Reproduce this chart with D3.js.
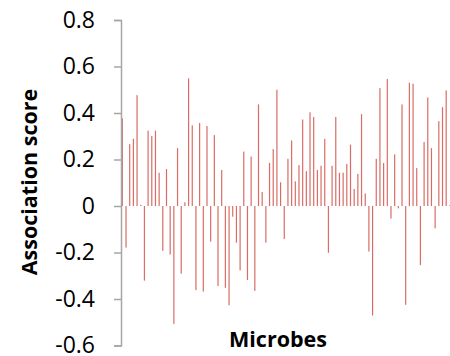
<!DOCTYPE html>
<html>
<head>
<meta charset="utf-8">
<script src="https://cdn.jsdelivr.net/npm/d3@7"></script>
<style>
  body { margin: 0; background: #fff; }
</style>
</head>
<body>
<div id="chart"></div>
<script>
// association score per microbe
let scores = [
  0.377, -0.179, 0.266, 0.289, 0.477, 0.005, -0.321, 0.324, 0.301, 0.324,
  0.143, -0.193, 0.159, -0.209, -0.507, 0.249, -0.291, 0.016, 0.549, 0.347,
  -0.362, 0.357, -0.368, 0.344, -0.153, 0.305, -0.344, 0.155, -0.352, -0.427,
  -0.046, -0.158, -0.277, 0.234, -0.318, 0.213, -0.365, 0.437, 0.060, -0.158,
  0.185, 0.245, 0.500, 0.102, -0.142, 0.203, 0.282, 0.106, 0.176, 0.372,
  0.150, 0.403, 0.383, 0.155, 0.173, 0.289, -0.201, 0.173, 0.383, 0.143,
  0.143, 0.181, 0.264, 0.073, 0.138, 0.395, 0.054, -0.196, -0.471, 0.203,
  0.507, 0.185, 0.546, -0.054, 0.222, -0.010, 0.437, -0.425, 0.530, 0.526,
  0.163, -0.254, 0.275, 0.467, 0.249, -0.096, 0.365, 0.425, 0.497, 0.004
];
let microbes = scores.map(function (d, i) { return "M" + (i + 1); });
let yTicks = [-0.6, -0.4, -0.2, 0, 0.2, 0.4, 0.6, 0.8];

let width = 450;
let height = 356;

let svg = d3.select("#chart")
  .append("svg")
  .attr("width", width)
  .attr("height", height);

let x = d3.scaleBand()
  .domain(microbes)
  .range([120.5, 451.7]);

let y = d3.scaleLinear()
  .domain([-0.6, 0.8])
  .range([345.5, 20]);

let barW = 1.2;

svg.selectAll(".bar")
  .data(scores)
  .enter()
  .append("rect")
  .attr("class", "bar")
  .attr("x", function (d, i) { return x(microbes[i]) + x.bandwidth() / 2 - barW / 2; })
  .attr("y", function (d) { return y(Math.max(0, d)); })
  .attr("width", barW)
  .attr("height", function (d) { return Math.abs(y(d) - y(0)); })
  .attr("fill", "#d96d66");

let yAxis = svg.append("g")
  .attr("transform", "translate(121,0)")
  .call(d3.axisLeft(y)
    .tickValues(yTicks)
    .tickSize(7)
    .tickPadding(19)
    .tickFormat(function (d) { return String(+d.toFixed(1)); }));

yAxis.select(".domain")
  .attr("stroke", "#a6a6a6")
  .attr("stroke-width", 1.5);
yAxis.selectAll(".tick line")
  .attr("stroke", "#a6a6a6")
  .attr("stroke-width", 1.5);
yAxis.selectAll(".tick text")
  .attr("font-family", "Open Sans, sans-serif")
  .attr("font-size", 23)
  .attr("fill", "#000");

svg.append("text")
  .attr("transform", "translate(37,182) rotate(-90)")
  .attr("text-anchor", "middle")
  .attr("font-family", "Open Sans, sans-serif")
  .attr("font-weight", "bold")
  .attr("font-size", 21.5)
  .text("Association score");

svg.append("text")
  .attr("x", 278)
  .attr("y", 347)
  .attr("text-anchor", "middle")
  .attr("font-family", "Open Sans, sans-serif")
  .attr("font-weight", "bold")
  .attr("font-size", 21.5)
  .text("Microbes");
</script>
</body>
</html>
